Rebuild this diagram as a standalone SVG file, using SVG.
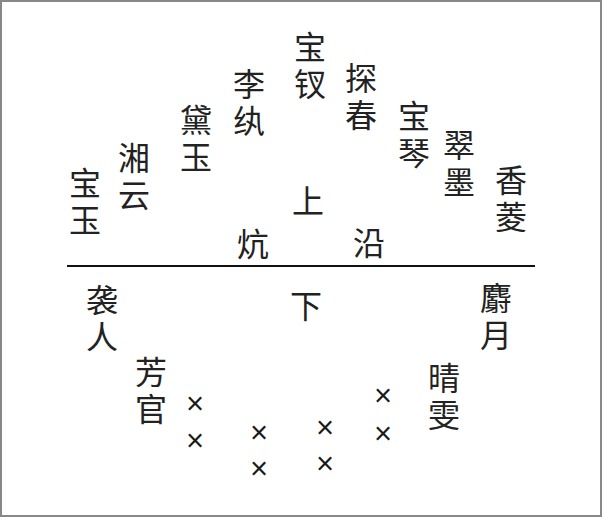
<svg xmlns="http://www.w3.org/2000/svg" width="602" height="517" viewBox="0 0 602 517">
<style>
.c{font-family:"Noto Sans CJK SC","Noto Sans CJK JP",sans-serif;font-size:32px;fill:#222;text-anchor:middle}
.v{font-family:"Noto Sans CJK SC","Noto Sans CJK JP",sans-serif;font-size:32px;fill:#222;writing-mode:vertical-rl;letter-spacing:5px}
.x{font-family:"Liberation Sans",sans-serif;font-size:31px;fill:#1a1a1a;text-anchor:middle}
</style>
<rect x="1" y="1" width="600" height="515" fill="#fff" stroke="#888" stroke-width="2"/>
<g id="connectors"><line x1="67" y1="266" x2="535" y2="266" stroke="#111" stroke-width="2"/></g>
<g id="baoyu"><text class="v" x="85" y="167">宝玉</text></g>
<g id="xiangyun"><text class="v" x="134" y="142">湘云</text></g>
<g id="daiyu"><text class="v" x="196" y="104">黛玉</text></g>
<g id="liwan"><text class="v" x="249" y="68">李纨</text></g>
<g id="baochai"><text class="v" x="310" y="31">宝钗</text></g>
<g id="tanchun"><text class="v" x="361" y="62">探春</text></g>
<g id="baoqin"><text class="v" x="414" y="100">宝琴</text></g>
<g id="cuimo"><text class="v" x="459" y="129">翠墨</text></g>
<g id="xiangling"><text class="v" x="511" y="164">香菱</text></g>
<g id="shang"><text class="c" x="308" y="213">上</text></g>
<g id="kang"><text class="c" x="253" y="256">炕</text></g>
<g id="yan"><text class="c" x="369" y="255">沿</text></g>
<g id="xiren"><text class="v" x="102" y="284">袭人</text></g>
<g id="xia"><text class="c" x="306" y="318">下</text></g>
<g id="fangguan"><text class="v" x="151" y="356">芳官</text></g>
<g id="sheyue"><text class="v" x="496" y="282">麝月</text></g>
<g id="qingwen"><text class="v" x="444" y="362">晴雯</text></g>
<g id="marks">
<text class="x" x="195" y="414">×</text><text class="x" x="195" y="451">×</text>
<text class="x" x="259" y="443">×</text><text class="x" x="259" y="479">×</text>
<text class="x" x="325" y="438">×</text><text class="x" x="325" y="474">×</text>
<text class="x" x="383" y="406">×</text><text class="x" x="383" y="444">×</text>
</g>
</svg>
